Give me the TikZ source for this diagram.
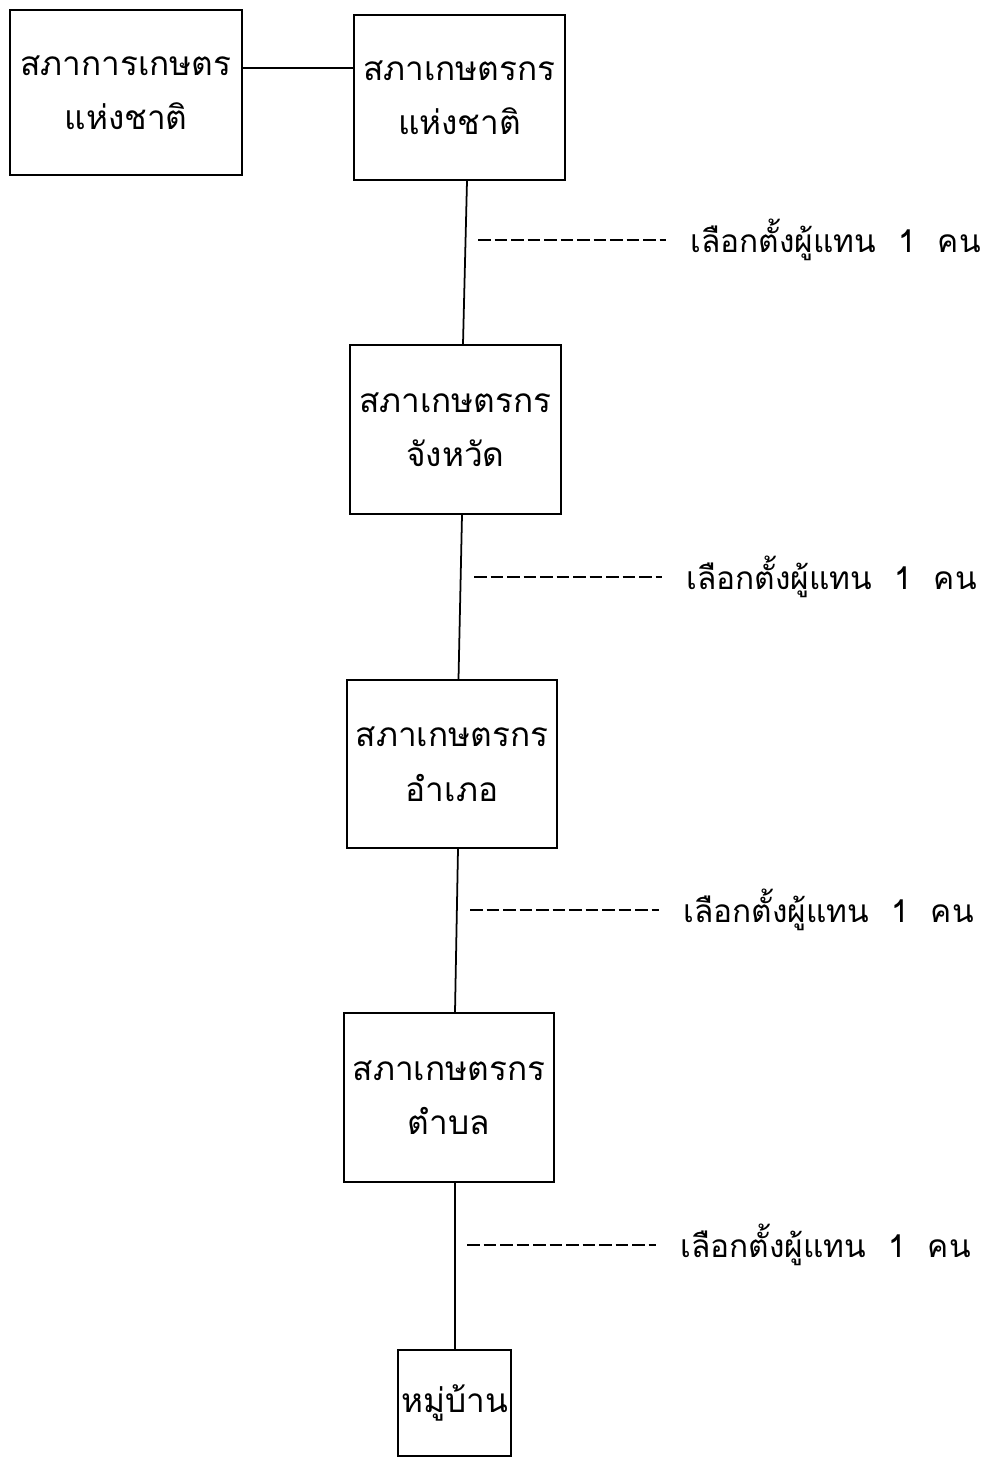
\documentclass[tikz,border=0pt]{standalone}
\usepackage{fontspec}
\newfontfamily\thaifont[Script=Thai]{Loma}
\usetikzlibrary{calc}
\newcommand{\elect}{เลือกตั้งผู้แทน\hspace{0.7em}1\hspace{0.7em}คน}
\begin{document}
\begin{tikzpicture}[x=0.02cm,y=-0.02cm,
  box/.style={draw,line width=1pt,align=center,font=\thaifont\fontsize{19}{31}\selectfont,inner sep=0pt},
  conn/.style={line width=1pt},
  dashline/.style={line width=1.1pt,dash pattern=on 7.2pt off 2.2pt},
  lbl/.style={anchor=west,font=\thaifont\fontsize{18}{24}\selectfont,inner sep=0pt}]
\useasboundingbox (0,0) rectangle (990,1458);
\node[box,minimum width=4.64cm,minimum height=3.30cm] (b1) at (126,92.5) {สภาการเกษตร\\แห่งชาติ};
\node[box,minimum width=4.22cm,minimum height=3.30cm] (b2) at (459.5,97.5) {สภาเกษตรกร\\แห่งชาติ};
\node[box,minimum width=4.22cm,minimum height=3.38cm] (b3) at (455.5,429.5) {สภาเกษตรกร\\จังหวัด};
\node[box,minimum width=4.20cm,minimum height=3.36cm] (b4) at (452,764) {สภาเกษตรกร\\อำเภอ};
\node[box,minimum width=4.20cm,minimum height=3.38cm] (b5) at (449,1097.5) {สภาเกษตรกร\\ตำบล};
\node[box,minimum width=2.26cm,minimum height=2.12cm] (b6) at (454.5,1403) {หมู่บ้าน};
\draw[conn] (b1.east |- 0,68) -- (b2.west |- 0,68);
\draw[conn] ($(b2.south)+(7.5,0)$) -- ($(b3.north)+(7.5,0)$);
\draw[conn] ($(b3.south)+(6.5,0)$) -- ($(b4.north)+(6.5,0)$);
\draw[conn] ($(b4.south)+(6,0)$) -- ($(b5.north)+(6,0)$);
\draw[conn] ($(b5.south)+(6,0)$) -- ($(b6.north)+(0.5,0)$);
\node[lbl] (l1) at (690,240) {\elect};
\node[lbl] (l2) at (686,577) {\elect};
\node[lbl] (l3) at (683,910) {\elect};
\node[lbl] (l4) at (680,1245) {\elect};
\coordinate (d1) at (478,240);
\coordinate (d2) at (474,577);
\coordinate (d3) at (470,910);
\coordinate (d4) at (467,1245);
\draw[dashline] (d1) -- ($(l1.west)+(-24,0)$);
\draw[dashline] (d2) -- ($(l2.west)+(-24,0)$);
\draw[dashline] (d3) -- ($(l3.west)+(-24,0)$);
\draw[dashline] (d4) -- ($(l4.west)+(-24,0)$);
\end{tikzpicture}
\end{document}
